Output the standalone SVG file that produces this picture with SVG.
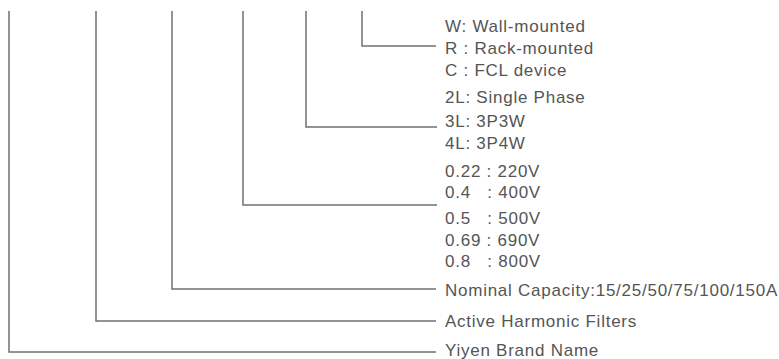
<svg xmlns="http://www.w3.org/2000/svg" width="779" height="359" viewBox="0 0 779 359">
<style>
.c{fill:none;stroke:#707070;stroke-width:1.5}
text{font-family:"Liberation Sans",Arial,sans-serif;font-size:17px;letter-spacing:0.75px;fill:#555}
</style>
<rect width="779" height="359" fill="#fff"/>
<g id="connectors">
<polyline class="c" points="362,11 362,46 436,46"/>
<polyline class="c" points="306,11 306,127 437,127"/>
<polyline class="c" points="243,11 243,205 437,205"/>
<polyline class="c" points="172,11 172,289 436,289"/>
<polyline class="c" points="96,11 96,321 436,321"/>
<polyline class="c" points="9,11 9,352 436,352"/>
</g>
<g id="mounting">
<text x="445" y="31.5">W: Wall-mounted</text>
<text x="445" y="53.5">R : Rack-mounted</text>
<text x="445" y="76">C : FCL device</text>
</g>
<g id="phase">
<text x="445" y="103">2L: Single Phase</text>
<text x="445" y="126.5">3L: 3P3W</text>
<text x="445" y="149">4L: 3P4W</text>
</g>
<g id="voltage">
<text x="445" y="177">0.22 : 220V</text>
<text x="445" y="198" xml:space="preserve">0.4   : 400V</text>
<text x="445" y="224" xml:space="preserve">0.5   : 500V</text>
<text x="445" y="246">0.69 : 690V</text>
<text x="445" y="267" xml:space="preserve">0.8   : 800V</text>
</g>
<g id="capacity"><text x="445" y="296">Nominal Capacity:15/25/50/75/100/150A</text></g>
<g id="series"><text x="445" y="327">Active Harmonic Filters</text></g>
<g id="brand"><text x="445" y="356">Yiyen Brand Name</text></g>
</svg>
